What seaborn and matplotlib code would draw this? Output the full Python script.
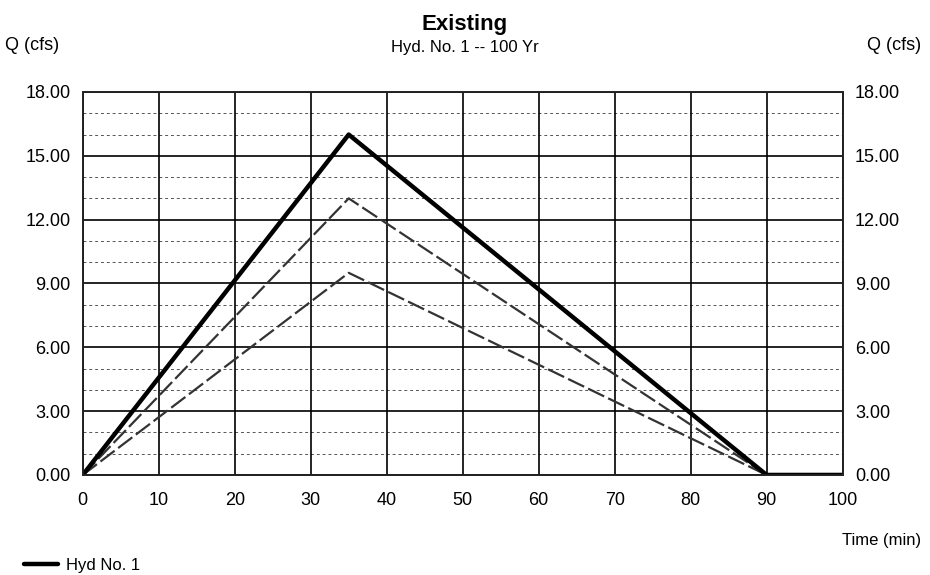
import matplotlib
matplotlib.use("Agg")
import matplotlib.pyplot as plt
import seaborn as sns
import pandas as pd
import numpy as np

time_min = [0, 35, 90, 100]
hyd1 = [0.0, 16.0, 0.0, 0.0]
hyd_mid = [0.0, 13.0, 0.0, 0.0]
hyd_low = [0.0, 9.5, 0.0, 0.0]
yticks = [0, 3, 6, 9, 12, 15, 18]
xticks = [0, 10, 20, 30, 40, 50, 60, 70, 80, 90, 100]

sns.set_theme(style="white")
plt.rcParams['font.family'] = ['Liberation Sans', 'DejaVu Sans']
plt.rcParams['text.color'] = 'black'
plt.rcParams['xtick.color'] = 'black'
plt.rcParams['ytick.color'] = 'black'

fig = plt.figure(figsize=(9.3, 5.75), dpi=100)
ax = fig.add_axes([0.089, 0.174, 0.817, 0.666])

df = pd.DataFrame({"t": time_min, "a": hyd1, "b": hyd_mid, "c": hyd_low})

for v in np.arange(0, 18.01, 1.0):
    if v % 3 != 0:
        ax.axhline(v, color="#555555", lw=0.7, ls=(0, (3, 3)), zorder=1)
for v in yticks:
    ax.axhline(v, color="black", lw=1.2, zorder=1)
for v in xticks:
    ax.axvline(v, color="black", lw=1.2, zorder=1)

sns.lineplot(data=df, x="t", y="c", ax=ax, color="#333333", lw=1.6, ls=(0, (8, 2)), zorder=3)
sns.lineplot(data=df, x="t", y="b", ax=ax, color="#333333", lw=1.6, ls=(0, (8, 2)), zorder=3)
sns.lineplot(data=df, x="t", y="a", ax=ax, color="black", lw=3.2, zorder=4, label="Hyd No. 1")

ax.set_xlim(0, 100)
ax.set_ylim(0, 18)
ax.set_xticks(xticks)
ax.set_yticks(yticks)
ax.set_yticklabels([f"{v:.2f}" for v in yticks])
ax.set_xlabel("")
ax.set_ylabel("")
ax.tick_params(axis="both", labelsize=13, length=0, pad=9)
ax.tick_params(axis="x", pad=12)
for s in ax.spines.values():
    s.set_color("black")
    s.set_linewidth(1.2)

ax2 = ax.twinx()
ax2.set_ylim(0, 18)
ax2.set_yticks(yticks)
ax2.set_yticklabels([f"{v:.2f}" for v in yticks])
ax2.tick_params(axis="y", labelsize=13, length=0, pad=9)
ax2.grid(False)

handles, labels = ax.get_legend_handles_labels()
ax.get_legend().remove()
fig.legend(handles, labels, loc="lower left", bbox_to_anchor=(0.01, -0.022), frameon=False,
           fontsize=12, handlelength=2.0, handletextpad=0.5)

fig.text(0.5, 0.958, "Existing", ha="center", va="center", fontsize=16, fontweight="bold")
fig.text(0.5, 0.917, "Hyd. No. 1 -- 100 Yr", ha="center", va="center", fontsize=12)
fig.text(0.005, 0.92, "Q (cfs)", ha="left", va="center", fontsize=13)
fig.text(0.99, 0.92, "Q (cfs)", ha="right", va="center", fontsize=13)
fig.text(0.99, 0.06, "Time (min)", ha="right", va="center", fontsize=12)

fig.savefig("out.png", dpi=100)
